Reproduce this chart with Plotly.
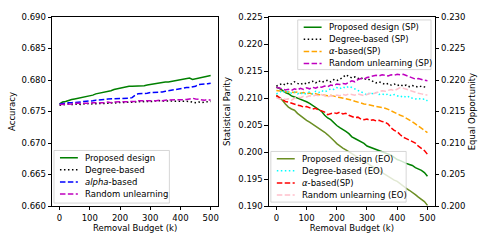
import plotly.graph_objects as go

budget = list(range(0, 501, 10))

# Left panel: accuracy
acc_proposed = [0.6762,0.6765,0.6766,0.6768,0.6769,0.6770,0.6771,0.6771,0.6773,0.6774,0.6775,0.6776,0.6778,0.6779,0.6779,0.6780,0.6782,0.6783,0.6785,0.6786,0.6788,0.6788,0.6789,0.6790,0.6790,0.6790,0.6791,0.6791,0.6791,0.6792,0.6793,0.6794,0.6795,0.6795,0.6796,0.6797,0.6797,0.6798,0.6799,0.6799,0.6801,0.6802,0.6803,0.6803,0.6801,0.6802,0.6803,0.6804,0.6805,0.6806,0.6807]
acc_degree = [0.6760,0.6761,0.6761,0.6762,0.6761,0.6762,0.6762,0.6761,0.6762,0.6763,0.6762,0.6762,0.6763,0.6763,0.6762,0.6763,0.6763,0.6764,0.6763,0.6764,0.6764,0.6764,0.6764,0.6765,0.6765,0.6765,0.6766,0.6765,0.6766,0.6766,0.6765,0.6766,0.6767,0.6767,0.6766,0.6767,0.6767,0.6766,0.6766,0.6767,0.6767,0.6766,0.6767,0.6766,0.6765,0.6764,0.6765,0.6764,0.6765,0.6766,0.6766]
acc_alpha = [0.6762,0.6763,0.6763,0.6764,0.6764,0.6764,0.6765,0.6765,0.6766,0.6766,0.6767,0.6767,0.6768,0.6768,0.6769,0.6769,0.6770,0.6770,0.6770,0.6770,0.6770,0.6770,0.6770,0.6771,0.6772,0.6776,0.6778,0.6778,0.6779,0.6779,0.6780,0.6780,0.6780,0.6781,0.6781,0.6782,0.6783,0.6784,0.6785,0.6786,0.6787,0.6788,0.6788,0.6788,0.6789,0.6790,0.6793,0.6793,0.6793,0.6794,0.6795]
acc_random = [0.6761,0.6761,0.6762,0.6762,0.6762,0.6763,0.6763,0.6762,0.6763,0.6763,0.6763,0.6764,0.6764,0.6763,0.6764,0.6764,0.6765,0.6764,0.6765,0.6765,0.6765,0.6765,0.6766,0.6765,0.6766,0.6766,0.6767,0.6767,0.6767,0.6766,0.6767,0.6767,0.6767,0.6768,0.6767,0.6768,0.6768,0.6768,0.6768,0.6769,0.6768,0.6769,0.6769,0.6770,0.6771,0.6770,0.6769,0.6769,0.6768,0.6769,0.6768]

# Right panel: statistical parity (left axis)
sp_proposed = [0.2120,0.2118,0.2114,0.2110,0.2108,0.2104,0.2102,0.2100,0.2098,0.2095,0.2093,0.2090,0.2086,0.2082,0.2078,0.2075,0.2068,0.2063,0.2060,0.2054,0.2049,0.2045,0.2042,0.2038,0.2034,0.2028,0.2025,0.2022,0.2020,0.2016,0.2011,0.2009,0.2007,0.2005,0.2003,0.2001,0.1998,0.1996,0.1994,0.1990,0.1986,0.1984,0.1981,0.1979,0.1977,0.1975,0.1971,0.1969,0.1966,0.1962,0.1955]
sp_degree = [0.2122,0.2125,0.2127,0.2124,0.2128,0.2126,0.2130,0.2127,0.2125,0.2128,0.2126,0.2129,0.2131,0.2128,0.2132,0.2129,0.2131,0.2133,0.2130,0.2134,0.2132,0.2135,0.2138,0.2143,0.2140,0.2137,0.2139,0.2136,0.2138,0.2134,0.2136,0.2133,0.2131,0.2128,0.2130,0.2127,0.2125,0.2127,0.2124,0.2126,0.2123,0.2125,0.2122,0.2124,0.2121,0.2123,0.2122,0.2120,0.2122,0.2120,0.2119]
sp_alpha = [0.2114,0.2113,0.2112,0.2112,0.2111,0.2111,0.2110,0.2111,0.2109,0.2110,0.2108,0.2109,0.2107,0.2108,0.2106,0.2106,0.2105,0.2104,0.2105,0.2103,0.2102,0.2101,0.2100,0.2098,0.2097,0.2096,0.2094,0.2092,0.2090,0.2089,0.2088,0.2087,0.2085,0.2084,0.2083,0.2082,0.2081,0.2079,0.2076,0.2073,0.2070,0.2068,0.2066,0.2063,0.2060,0.2056,0.2052,0.2048,0.2044,0.2040,0.2036]
sp_random = [0.2120,0.2118,0.2117,0.2115,0.2116,0.2114,0.2117,0.2115,0.2118,0.2116,0.2119,0.2117,0.2120,0.2118,0.2121,0.2120,0.2122,0.2121,0.2124,0.2123,0.2126,0.2125,0.2127,0.2126,0.2129,0.2132,0.2130,0.2134,0.2136,0.2135,0.2138,0.2139,0.2140,0.2142,0.2141,0.2143,0.2142,0.2141,0.2143,0.2142,0.2144,0.2143,0.2144,0.2142,0.2140,0.2137,0.2135,0.2136,0.2134,0.2133,0.2132]

# Right panel: equal opportunity (right axis)
eo_proposed = [0.2176,0.2172,0.2168,0.2162,0.2157,0.2154,0.2152,0.2147,0.2143,0.2140,0.2136,0.2133,0.2130,0.2127,0.2124,0.2121,0.2117,0.2113,0.2109,0.2104,0.2099,0.2095,0.2092,0.2089,0.2086,0.2083,0.2080,0.2076,0.2073,0.2070,0.2068,0.2065,0.2062,0.2059,0.2056,0.2053,0.2050,0.2047,0.2044,0.2041,0.2039,0.2035,0.2031,0.2028,0.2025,0.2022,0.2018,0.2014,0.2011,0.2007,0.2001]
eo_degree = [0.2178,0.2181,0.2183,0.2180,0.2182,0.2179,0.2181,0.2178,0.2180,0.2177,0.2179,0.2181,0.2178,0.2182,0.2180,0.2183,0.2181,0.2184,0.2186,0.2185,0.2188,0.2186,0.2189,0.2187,0.2190,0.2188,0.2186,0.2184,0.2182,0.2179,0.2176,0.2180,0.2178,0.2180,0.2177,0.2178,0.2176,0.2178,0.2175,0.2177,0.2175,0.2173,0.2175,0.2172,0.2174,0.2171,0.2170,0.2171,0.2169,0.2170,0.2167]
eo_alpha = [0.2175,0.2172,0.2170,0.2166,0.2165,0.2163,0.2162,0.2160,0.2159,0.2157,0.2158,0.2156,0.2154,0.2155,0.2152,0.2151,0.2149,0.2145,0.2146,0.2148,0.2147,0.2149,0.2146,0.2147,0.2144,0.2142,0.2140,0.2141,0.2138,0.2137,0.2138,0.2136,0.2137,0.2135,0.2136,0.2134,0.2133,0.2130,0.2124,0.2120,0.2118,0.2113,0.2109,0.2107,0.2105,0.2103,0.2100,0.2095,0.2092,0.2088,0.2082]
eo_random = [0.2172,0.2170,0.2171,0.2169,0.2170,0.2168,0.2171,0.2173,0.2172,0.2174,0.2173,0.2175,0.2174,0.2176,0.2175,0.2177,0.2175,0.2173,0.2175,0.2174,0.2176,0.2175,0.2177,0.2176,0.2178,0.2177,0.2176,0.2178,0.2176,0.2175,0.2177,0.2179,0.2178,0.2180,0.2181,0.2183,0.2182,0.2184,0.2185,0.2183,0.2186,0.2188,0.2187,0.2186,0.2184,0.2182,0.2180,0.2179,0.2178,0.2177,0.2176]

x_ticks = [0, 100, 200, 300, 400, 500]

FONT = "DejaVu Sans"
FS = 8.5
DASH = "5.5px,2.4px"
DOT = "1.5px,2.5px"

W, H = 485, 243
ML, MR, MT, MB = 50, 50, 13, 36
PW, PH = W - ML - MR, H - MT - MB

fig = go.Figure()
legends = {"left": [], "right_top": [], "right_bottom": []}

def add(y, name, color, dash, xa, ya, legend):
    fig.add_trace(go.Scatter(x=budget, y=y, name=name, mode="lines", showlegend=False,
                             line=dict(color=color, width=1.5, dash=dash),
                             xaxis=xa, yaxis=ya))
    legends[legend].append((name, color, dash))

add(acc_proposed, "Proposed design", "#008000", "solid", "x", "y", "left")
add(acc_degree, "Degree-based", "#000000", DOT, "x", "y", "left")
add(acc_alpha, "<i>alpha</i>-based", "#0000ff", DASH, "x", "y", "left")
add(acc_random, "Random unlearning", "#bf00bf", DASH, "x", "y", "left")

add(sp_proposed, "Proposed design (SP)", "#008000", "solid", "x2", "y2", "right_top")
add(sp_degree, "Degree-based (SP)", "#000000", DOT, "x2", "y2", "right_top")
add(sp_alpha, "<i>α</i>-based(SP)", "#ffa500", DASH, "x2", "y2", "right_top")
add(sp_random, "Random unlearning (SP)", "#bf00bf", DASH, "x2", "y2", "right_top")

add(eo_proposed, "Proposed design (EO)", "#6b8e23", "solid", "x2", "y3", "right_bottom")
add(eo_degree, "Degree-based (EO)", "#00ffff", DOT, "x2", "y3", "right_bottom")
add(eo_alpha, "<i>α</i>-based(SP)", "#ff0000", DASH, "x2", "y3", "right_bottom")
add(eo_random, "Random unlearning (EO)", "#ffc0cb", DASH, "x2", "y3", "right_bottom")

# Legend frames (pixel placement in the figure): left, top, right, bottom
legend_frames = {
    "left": (52, 150, 168, 204),
    "right_top": (297, 16, 431, 67),
    "right_bottom": (270, 151, 406, 203),
}
ROW0, ROWSTEP = 7.5, 12.4
SAMPLE_PAD, SAMPLE_LEN, TEXT_GAP = 6, 18, 6

def px2x(px):
    return (px - ML) / PW

def py2y(py):
    return (MT + PH - py) / PH

shapes, annotations = [], []
for key, (l, t, r, b) in legend_frames.items():
    shapes.append(dict(type="rect", xref="paper", yref="paper",
                       x0=px2x(l), x1=px2x(r), y0=py2y(b), y1=py2y(t),
                       fillcolor="rgba(255,255,255,0.8)",
                       line=dict(color="#cccccc", width=0.8), layer="above"))
    for i, (name, color, dash) in enumerate(legends[key]):
        yy = py2y(t + ROW0 + i * ROWSTEP)
        shapes.append(dict(type="line", xref="paper", yref="paper",
                           x0=px2x(l + SAMPLE_PAD), x1=px2x(l + SAMPLE_PAD + SAMPLE_LEN),
                           y0=yy, y1=yy, line=dict(color=color, width=1.5, dash=dash),
                           layer="above"))
        annotations.append(dict(xref="paper", yref="paper",
                                x=px2x(l + SAMPLE_PAD + SAMPLE_LEN + TEXT_GAP), y=yy,
                                xanchor="left", yanchor="middle", showarrow=False,
                                text=name, font=dict(family=FONT, size=FS, color="black"),
                                borderpad=0))

# Right-hand axis title
annotations.append(dict(xref="paper", yref="paper", x=px2x(472), y=0.5,
                        xanchor="center", yanchor="middle", showarrow=False, textangle=-90,
                        text="Equal Opportunity",
                        font=dict(family=FONT, size=FS, color="black")))

axis_common = dict(showline=True, linecolor="black", linewidth=0.8, ticks="outside",
                   ticklen=3.5, tickwidth=0.8, tickcolor="black", showgrid=False,
                   zeroline=False, tickfont=dict(family=FONT, size=FS, color="black"))

fig.update_layout(
    width=W, height=H,
    margin=dict(l=ML, r=MR, t=MT, b=MB),
    plot_bgcolor="white", paper_bgcolor="white",
    font=dict(family=FONT, size=FS, color="black"),
    showlegend=False,
    xaxis=dict(domain=[0, 0.434], range=[-25, 525], tickvals=x_ticks, mirror=True,
               anchor="y",
               title=dict(text="Removal Budget (k)", font=dict(family=FONT, size=FS), standoff=2),
               **axis_common),
    yaxis=dict(range=[0.66, 0.69], dtick=0.005, tickformat=".3f", mirror=True, anchor="x",
               title=dict(text="Accuracy", font=dict(family=FONT, size=FS), standoff=4),
               **axis_common),
    xaxis2=dict(domain=[0.566, 1], range=[-25, 525], tickvals=x_ticks, mirror=True,
                anchor="y2",
                title=dict(text="Removal Budget (k)", font=dict(family=FONT, size=FS), standoff=2),
                **axis_common),
    yaxis2=dict(range=[0.19, 0.225], dtick=0.005, tickformat=".3f", anchor="x2",
                title=dict(text="Statistical Parity", font=dict(family=FONT, size=FS), standoff=6),
                **axis_common),
    yaxis3=dict(range=[0.20, 0.23], dtick=0.005, tickformat=".3f", anchor="x2",
                overlaying="y2", side="right", **axis_common),
    shapes=shapes,
    annotations=annotations,
)

fig.write_html("out.html",
               config={"displayModeBar": False},
               post_script="document.body.style.margin='0';document.body.style.overflow='hidden';")
